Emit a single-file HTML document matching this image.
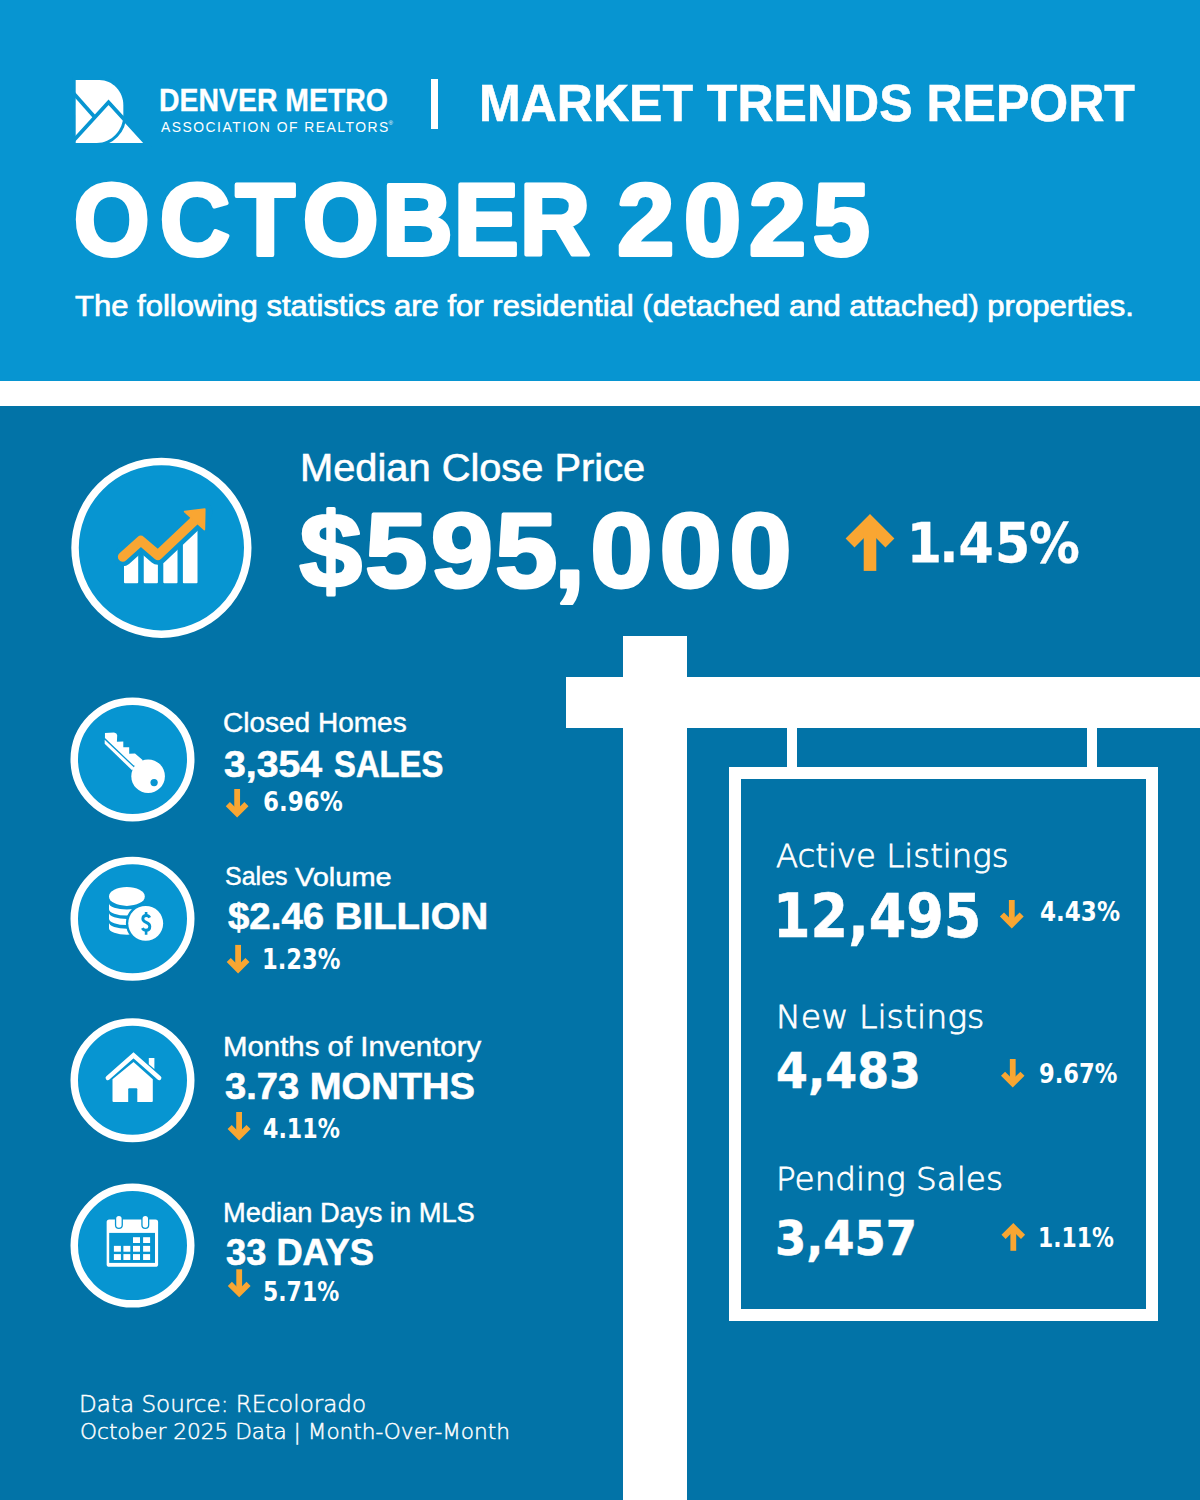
<!DOCTYPE html>
<html lang="en"><head><meta charset="utf-8"><title>Denver Metro Association of Realtors - Market Trends Report October 2025</title>
<style>
html,body{margin:0;padding:0}
body{width:1200px;height:1500px;overflow:hidden;position:relative;background:#0273a7;font-family:'Liberation Sans',Arial,sans-serif;color:#fff}
.top{position:absolute;left:0;top:0;width:1200px;height:380.7px;background:#0795d1}
.stripe{position:absolute;left:0;top:380.7px;width:1200px;height:25.8px;background:#fff}
.w{position:absolute;background:#fff}
.frame{position:absolute;left:728.5px;top:766.7px;width:429.5px;height:554.3px;box-sizing:border-box;border:12.4px solid #fff}
.tx{position:absolute;white-space:nowrap;line-height:1;transform-origin:0 0;color:#fff}
.ic{position:absolute;overflow:visible}
</style></head><body>
<header class="top">
<svg class="ic" style="left:70px;top:75px" width="80" height="72" viewBox="0 0 1200 1080">
<polygon points="85,1020 85,950 578,410 1160,1050 1160,1020" fill="#fff"/>
<path d="M85,75 H440 C640,75 800,250 800,450 V600 C800,832 621,1020 400,1020 H85 Z" fill="#fff" stroke="#0795d1" stroke-width="90" paint-order="stroke"/>
<path d="M20,236 L362,622" stroke="#0795d1" stroke-width="56" fill="none"/>
<path d="M20,1021 L578,410 L1200,1091" stroke="#0795d1" stroke-width="56" fill="none" stroke-linejoin="miter"/>
<rect x="0" y="1020" width="1200" height="60" fill="#0795d1"/>
</svg>
<div class="w" style="left:430.5px;top:79.3px;width:7.5px;height:49.5px"></div>
</header>
<div class="stripe"></div>
<main>
<div class="w" style="left:622.5px;top:636.3px;width:64.5px;height:864px"></div>
<div class="w" style="left:565.8px;top:676.5px;width:634.2px;height:51.5px"></div>
<div class="w" style="left:786.8px;top:727px;width:10.2px;height:41px"></div>
<div class="w" style="left:1086.7px;top:727px;width:10.3px;height:41px"></div>
<div class="frame"></div>
<svg class="ic" style="left:70px;top:456px" width="184" height="184" viewBox="70 456 184 184"><circle cx="161.4" cy="547.8" r="86.35" fill="#0795d1" stroke="#fff" stroke-width="7.5"/>
<clipPath id="bclip"><polygon points="110,568 122.7,556.8 140.8,540.6 157.9,555.2 192.5,522.5 210,506 210,600 110,600"/></clipPath>
<g fill="#fff" clip-path="url(#bclip)"><rect x="124" y="540" width="14.2" height="43.3" rx="1"/><rect x="143.75" y="530" width="14.15" height="53.3" rx="1"/>
<rect x="163.3" y="530" width="14.2" height="53.3" rx="1"/><rect x="182.9" y="515" width="14.6" height="68.3" rx="1"/></g>
<path d="M122.7,556.8 L140.8,540.6 L157.9,555.2 L192.5,522.5 L203,512" stroke="#0795d1" stroke-width="19.1" fill="none" stroke-linejoin="round" stroke-linecap="round"/>
<path d="M122.7,556.8 L140.8,540.6 L157.9,555.2 L192.5,522.5 L196,519" stroke="#f9a632" stroke-width="9.7" fill="none" stroke-linejoin="round" stroke-linecap="round"/>
<polygon points="184.6,511.6 204.8,509 204.4,529.6" fill="#f9a632" stroke="#f9a632" stroke-width="1.6" stroke-linejoin="round"/></svg>
<svg class="ic" style="left:69px;top:696px" width="128" height="128" viewBox="69 696 128 128"><circle cx="132.5" cy="759.4" r="58.25" fill="#0795d1" stroke="#fff" stroke-width="7.5"/>
<g fill="#fff">
<circle cx="148.1" cy="776.2" r="16.8"/>
<polygon points="104.96,732.96 114.0,732.55 116.34,733.54 117.2,735.3 116.9,741.7 123.3,741.4 123.3,747.25 129.2,747.25 129.2,753.7 135.0,753.4 142.6,760.1 140.8,768.8 133.5,765.3 104.96,737.9"/>
<polygon points="104.67,739.67 133.5,767 135,768.8 131.8,770 104.67,743.75"/>
</g><circle cx="154.1" cy="782.55" r="3.65" fill="#0795d1"/></svg>
<svg class="ic" style="left:69px;top:855px" width="128" height="128" viewBox="69 855 128 128"><circle cx="132.5" cy="918.8" r="58.25" fill="#0795d1" stroke="#fff" stroke-width="7.5"/>
<ellipse cx="126.9" cy="896.4" rx="17.9" ry="9.5" fill="#fff"/><path d="M109.0,903.3 A17.9,6.2 0 0 0 144.8,903.3 L144.8,909.2 A17.9,6.4 0 0 1 109.0,909.2 Z" fill="#fff"/><path d="M109.0,912.8 A17.9,6.2 0 0 0 144.8,912.8 L144.8,918.7 A17.9,6.4 0 0 1 109.0,918.7 Z" fill="#fff"/><path d="M109.0,922.5 A17.9,6.2 0 0 0 144.8,922.5 L144.8,928.3 A17.9,6.4 0 0 1 109.0,928.3 Z" fill="#fff"/>
<circle cx="145.7" cy="923.35" r="17.45" fill="#fff" stroke="#0795d1" stroke-width="4.8" paint-order="stroke"/>
<path d="M149.71,917.6 C149.02,916.1 147.82,915.5 146.19,915.5 C144.04,915.5 142.83,916.9 142.83,918.8 C142.83,923.3 149.80,921.4 149.80,926.5 C149.80,928.8 148.25,930.3 146.01,930.3 C144.29,930.3 143.09,929.5 142.32,928.1" fill="none" stroke="#0795d1" stroke-width="2.9"/>
<path d="M146.1,911.9 V916 M146.1,929.8 V934.7" stroke="#0795d1" stroke-width="2.6"/></svg>
<svg class="ic" style="left:69px;top:1017px" width="128" height="128" viewBox="69 1017 128 128"><circle cx="132.5" cy="1080.3" r="58.25" fill="#0795d1" stroke="#fff" stroke-width="7.5"/>
<polygon points="148.8,1057.9 154.4,1057.9 154.4,1069.1 148.8,1064.3" fill="#fff"/>
<path d="M107.9,1077.9 L133.5,1055.2 L159.1,1077.9" stroke="#fff" stroke-width="4.6" fill="none" stroke-linecap="round" stroke-linejoin="miter"/>
<path d="M133.5,1062 L152.8,1079.2 V1100.9 Q152.8,1101.9 151.8,1101.9 H113.5 Q112.5,1101.9 112.5,1100.9 V1079.2 Z" fill="#fff"/>
<path d="M128.2,1102 V1089.3 Q128.2,1088.3 129.2,1088.3 H136.3 Q137.3,1088.3 137.3,1089.3 V1102 Z" fill="#0795d1"/></svg>
<svg class="ic" style="left:69px;top:1182px" width="128" height="128" viewBox="69 1182 128 128"><circle cx="132.5" cy="1245.6" r="58.25" fill="#0795d1" stroke="#fff" stroke-width="7.5"/>
<rect x="106.65" y="1219.5" width="51.45" height="47.3" rx="2.6" fill="#fff"/>
<rect x="109.2" y="1232.9" width="45.8" height="30" fill="#0795d1"/>
<g fill="#fff"><rect x="133.0" y="1237.2" width="7.00" height="5.80"/><rect x="143.1" y="1237.2" width="7.00" height="5.80"/><rect x="113.9" y="1245.85" width="7.00" height="5.85"/><rect x="123.4" y="1245.85" width="6.90" height="5.85"/><rect x="133.0" y="1245.85" width="7.00" height="5.85"/><rect x="143.1" y="1245.85" width="7.00" height="5.85"/><rect x="113.9" y="1254.1" width="7.00" height="5.90"/><rect x="123.4" y="1254.1" width="6.90" height="5.90"/><rect x="133.0" y="1254.1" width="7.00" height="5.90"/><rect x="143.1" y="1254.1" width="7.00" height="5.90"/></g>
<g stroke="#0795d1" stroke-width="8" stroke-linecap="round"><path d="M118.9,1218.6 V1225.1 M145.3,1218.6 V1225.1"/></g>
<g stroke="#fff" stroke-width="5.4" stroke-linecap="round"><path d="M118.9,1218.6 V1225.1 M145.3,1218.6 V1225.1"/></g></svg>
<svg class="ic" style="left:843px;top:512px" width="54" height="62" viewBox="843 512 54 62"><path d="M850.06,542.95 L870.00,523.01 L889.94,542.95" stroke="#f9a632" stroke-width="12.6" fill="none" stroke-linejoin="miter"/><path d="M870.00,523.01 V570.90" stroke="#f9a632" stroke-width="12.6" fill="none"/></svg><svg class="ic" style="left:223px;top:787px" width="28" height="34" viewBox="223 787 28 34"><path d="M227.85,804.10 L237.15,813.40 L246.45,804.10" stroke="#f9a632" stroke-width="5.8" fill="none" stroke-linejoin="miter"/><path d="M237.15,813.40 V789.00" stroke="#f9a632" stroke-width="5.8" fill="none"/></svg><svg class="ic" style="left:224px;top:942px" width="28" height="34" viewBox="224 942 28 34"><path d="M228.75,959.95 L238.10,969.30 L247.45,959.95" stroke="#f9a632" stroke-width="5.8" fill="none" stroke-linejoin="miter"/><path d="M238.10,969.30 V944.90" stroke="#f9a632" stroke-width="5.8" fill="none"/></svg><svg class="ic" style="left:225px;top:1110px" width="29" height="34" viewBox="225 1110 29 34"><path d="M229.65,1126.95 L239.10,1136.40 L248.55,1126.95" stroke="#f9a632" stroke-width="5.8" fill="none" stroke-linejoin="miter"/><path d="M239.10,1136.40 V1112.00" stroke="#f9a632" stroke-width="5.8" fill="none"/></svg><svg class="ic" style="left:225px;top:1267px" width="28" height="34" viewBox="225 1267 28 34"><path d="M229.85,1283.85 L239.20,1293.20 L248.55,1283.85" stroke="#f9a632" stroke-width="5.8" fill="none" stroke-linejoin="miter"/><path d="M239.20,1293.20 V1269.30" stroke="#f9a632" stroke-width="5.8" fill="none"/></svg><svg class="ic" style="left:997px;top:898px" width="29" height="34" viewBox="997 898 29 34"><path d="M1001.95,914.55 L1011.80,924.40 L1021.65,914.55" stroke="#f9a632" stroke-width="5.8" fill="none" stroke-linejoin="miter"/><path d="M1011.80,924.40 V900.00" stroke="#f9a632" stroke-width="5.8" fill="none"/></svg><svg class="ic" style="left:999px;top:1057px" width="29" height="34" viewBox="999 1057 29 34"><path d="M1003.05,1073.70 L1012.75,1083.40 L1022.45,1073.70" stroke="#f9a632" stroke-width="5.8" fill="none" stroke-linejoin="miter"/><path d="M1012.75,1083.40 V1059.00" stroke="#f9a632" stroke-width="5.8" fill="none"/></svg><svg class="ic" style="left:999px;top:1221px" width="29" height="33" viewBox="999 1221 29 33"><path d="M1003.55,1236.85 L1013.30,1227.10 L1023.05,1236.85" stroke="#f9a632" stroke-width="5.8" fill="none" stroke-linejoin="miter"/><path d="M1013.30,1227.10 V1250.80" stroke="#f9a632" stroke-width="5.8" fill="none"/></svg>
</main>
<div class="tx" id="t_dm" style="left:159.47px;top:84.95px;font-size:30.44px;font-weight:700;transform:scaleX(0.9334);-webkit-text-stroke:0.3px #fff">DENVER METRO</div>
<div class="tx" id="t_assoc" style="left:161.30px;top:119.00px;font-size:15.08px;font-weight:400;transform:scaleX(0.9228);letter-spacing:1.6px">ASSOCIATION OF REALTORS</div>
<div class="tx" id="t_mtr" style="left:479.07px;top:77.70px;font-size:51.77px;font-weight:700;transform:scaleX(0.9663);-webkit-text-stroke:0.6px #fff">MARKET TRENDS REPORT</div>
<div class="tx" id="t_sub" style="left:75.27px;top:291.65px;font-size:28.59px;font-weight:400;transform:scaleX(1.0857);-webkit-text-stroke:0.7px #fff">The following statistics are for residential (detached and attached) properties.</div>
<div class="tx" id="t_mcp" style="left:299.89px;top:448.70px;font-size:38.97px;font-weight:400;transform:scaleX(1.0216);-webkit-text-stroke:0.6px #fff">Median Close Price</div>
<div class="tx" id="t_l1" style="left:223.11px;top:709.57px;font-size:26.81px;font-weight:400;transform:scaleX(1.0451);-webkit-text-stroke:0.45px #fff">Closed Homes</div>
<div class="tx" id="t_v1" style="left:224.19px;top:747.20px;font-size:36.27px;font-weight:700;transform:scaleX(1.0800);-webkit-text-stroke:0.6px #fff">3,354</div>
<div class="tx" id="t_v1b" style="left:333.69px;top:747.20px;font-size:36.27px;font-weight:700;transform:scaleX(0.9046);-webkit-text-stroke:0.6px #fff">SALES</div>
<div class="tx" id="t_p1" style="left:262.92px;top:789.39px;font-size:26.12px;font-weight:700;transform:scaleX(0.8804);font-family:'DejaVu Sans', 'Liberation Sans', sans-serif">6.96%</div>
<div class="tx" id="t_l2" style="left:224.69px;top:864.18px;font-size:25.53px;font-weight:400;transform:scaleX(0.9804);-webkit-text-stroke:0.45px #fff">Sales</div>
<div class="tx" id="t_l2b" style="left:295.23px;top:863.57px;font-size:26.10px;font-weight:400;transform:scaleX(1.1112);-webkit-text-stroke:0.45px #fff">Volume</div>
<div class="tx" id="t_v2" style="left:228.10px;top:897.70px;font-size:37.55px;font-weight:700;transform:scaleX(1.0227);-webkit-text-stroke:0.6px #fff">$2.46 BILLION</div>
<div class="tx" id="t_p2" style="left:262.12px;top:946.00px;font-size:27.64px;font-weight:700;transform:scaleX(0.8194);font-family:'DejaVu Sans', 'Liberation Sans', sans-serif">1.23%</div>
<div class="tx" id="t_l3" style="left:223.13px;top:1032.58px;font-size:27.24px;font-weight:400;transform:scaleX(1.0793);-webkit-text-stroke:0.45px #fff">Months of Inventory</div>
<div class="tx" id="t_v3" style="left:225.20px;top:1068.50px;font-size:36.84px;font-weight:700;transform:scaleX(1.0350);-webkit-text-stroke:0.6px #fff">3.73 MONTHS</div>
<div class="tx" id="t_p3" style="left:263.21px;top:1114.50px;font-size:27.23px;font-weight:700;transform:scaleX(0.8137);font-family:'DejaVu Sans', 'Liberation Sans', sans-serif">4.11%</div>
<div class="tx" id="t_l4" style="left:223.29px;top:1198.58px;font-size:27.24px;font-weight:400;transform:scaleX(1.0022);-webkit-text-stroke:0.45px #fff">Median Days in MLS</div>
<div class="tx" id="t_v4" style="left:226.23px;top:1235.20px;font-size:36.55px;font-weight:700;transform:scaleX(0.9921);-webkit-text-stroke:0.6px #fff">33 DAYS</div>
<div class="tx" id="t_p4" style="left:263.23px;top:1279.30px;font-size:26.55px;font-weight:700;transform:scaleX(0.8267);font-family:'DejaVu Sans', 'Liberation Sans', sans-serif">5.71%</div>
<div class="tx" id="t_s1" style="left:776.39px;top:840.40px;font-size:32.68px;font-weight:200;transform:scaleX(0.9896);-webkit-text-stroke:0.8px #fff;font-family:'DejaVu Sans', 'Liberation Sans', sans-serif">Active Listings</div>
<div class="tx" id="t_n1" style="left:773.19px;top:885.50px;font-size:60.32px;font-weight:700;transform:scaleX(0.8956);-webkit-text-stroke:0.6px #fff;font-family:'DejaVu Sans', 'Liberation Sans', sans-serif">12,495</div>
<div class="tx" id="t_q1" style="left:1039.98px;top:898.60px;font-size:26.96px;font-weight:700;transform:scaleX(0.8556);font-family:'DejaVu Sans', 'Liberation Sans', sans-serif">4.43%</div>
<div class="tx" id="t_s2" style="left:775.97px;top:1001.40px;font-size:32.41px;font-weight:200;transform:scaleX(1.0239);-webkit-text-stroke:0.8px #fff;font-family:'DejaVu Sans', 'Liberation Sans', sans-serif">New Listings</div>
<div class="tx" id="t_n2" style="left:776.12px;top:1046.75px;font-size:49.70px;font-weight:700;transform:scaleX(0.9222);-webkit-text-stroke:0.5px #fff;font-family:'DejaVu Sans', 'Liberation Sans', sans-serif">4,483</div>
<div class="tx" id="t_q2" style="left:1039.44px;top:1062.20px;font-size:25.86px;font-weight:700;transform:scaleX(0.8733);font-family:'DejaVu Sans', 'Liberation Sans', sans-serif">9.67%</div>
<div class="tx" id="t_s3" style="left:776.02px;top:1163.40px;font-size:32.68px;font-weight:200;transform:scaleX(1.0005);-webkit-text-stroke:0.8px #fff;font-family:'DejaVu Sans', 'Liberation Sans', sans-serif">Pending Sales</div>
<div class="tx" id="t_n3" style="left:774.74px;top:1214.29px;font-size:48.39px;font-weight:700;transform:scaleX(0.9283);-webkit-text-stroke:0.5px #fff;font-family:'DejaVu Sans', 'Liberation Sans', sans-serif">3,457</div>
<div class="tx" id="t_q3" style="left:1037.61px;top:1223.80px;font-size:27.23px;font-weight:700;transform:scaleX(0.8031);font-family:'DejaVu Sans', 'Liberation Sans', sans-serif">1.11%</div>
<div class="tx" id="t_f1" style="left:79.10px;top:1392.68px;font-size:23.76px;font-weight:200;transform:scaleX(0.9716);-webkit-text-stroke:0.45px #fff;font-family:'DejaVu Sans', 'Liberation Sans', sans-serif">Data Source: REcolorado</div>
<div class="tx" id="t_f2" style="left:79.79px;top:1420.78px;font-size:21.17px;font-weight:200;transform:scaleX(1.0211);-webkit-text-stroke:0.45px #fff;font-family:'DejaVu Sans', 'Liberation Sans', sans-serif">October 2025 Data | Month-Over-Month</div>
<svg class="ic" style="left:0;top:0" width="1200" height="1500" viewBox="0 0 1200 1500"><text id="g_oct" x="77.55 167.76 247.25 317.84 401.32 476.28 545.51" y="255.00" transform="scale(0.9526,1)" font-family="'Liberation Sans', Arial, sans-serif" font-weight="700" font-size="102.40" fill="#fff" stroke="#fff" stroke-width="4.0" stroke-linejoin="round">OCTOBER</text><text id="g_yr" x="616.33 682.93 747.93 811.64" y="255.00" transform="scale(1.0015,1)" font-family="'Liberation Sans', Arial, sans-serif" font-weight="700" font-size="102.40" fill="#fff" stroke="#fff" stroke-width="4.0" stroke-linejoin="round">2025</text><text id="g_price" x="282.17 343.92 405.88 466.39 521.89 555.99 621.32 686.94" y="586.75" transform="scale(1.0615,1)" font-family="'Liberation Sans', Arial, sans-serif" font-weight="700" font-size="105.74" fill="#fff" stroke="#fff" stroke-width="3.2" stroke-linejoin="round">$595,000</text><text id="g_pct" x="993.00 1028.77 1049.77 1089.69 1126.90" y="562.05" transform="scale(0.9131,1)" font-family="'DejaVu Sans', 'Liberation Sans', sans-serif" font-weight="700" font-size="55.56" fill="#fff" stroke="#fff" stroke-width="0.3" stroke-linejoin="round">1.45%</text></svg>
<div class="tx" style="left:388.6px;top:120.2px;font-size:6px">&reg;</div>
</body></html>
